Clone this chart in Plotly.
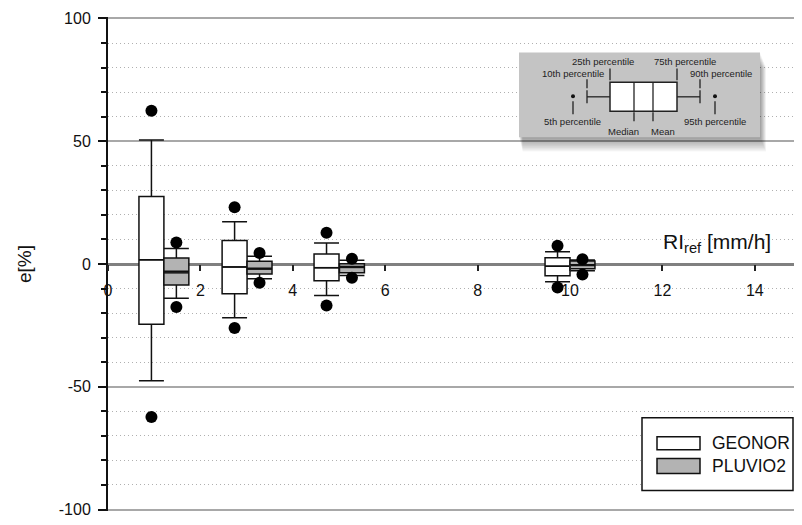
import plotly.graph_objects as go

# ---------------- data ----------------
series_names = ["GEONOR", "PLUVIO2"]
geo_x = [0.94, 2.74, 4.73, 9.73]
plu_x = [1.48, 3.28, 5.28, 10.27]

geo_p5 = [-62.3, -26.1, -16.9, -9.6]
geo_p10 = [-47.5, -21.9, -12.8, -7.2]
geo_q1 = [-24.5, -12.1, -6.8, -4.8]
geo_med = [1.7, -1.2, -1.5, -0.9]
geo_mean = [1.7, -1.2, -1.5, -0.9]
geo_q3 = [27.5, 9.6, 4.1, 2.5]
geo_p90 = [50.5, 17.2, 8.6, 5.0]
geo_p95 = [62.4, 23.1, 12.7, 7.4]

plu_p5 = [-17.5, -7.6, -5.6, -4.3]
plu_p10 = [-13.9, -6.0, -4.7, -2.8]
plu_q1 = [-8.6, -4.1, -3.6, -1.9]
plu_med = [-3.0, -1.7, -1.0, -0.3]
plu_mean = [-3.6, -2.1, -1.4, -0.6]
plu_q3 = [2.4, 1.1, 0.1, 1.2]
plu_p90 = [6.3, 3.2, 1.5, 1.6]
plu_p95 = [8.8, 4.5, 2.1, 1.9]

x_ticks = [0, 2, 4, 6, 8, 10, 12, 14]
y_ticks = [-100, -50, 0, 50, 100]
y_tick_text = ["-100", "-50", "0", "50", "100"]

box_w = 0.54
fills = ["#ffffff", "#b3b3b3"]

# --------------- layout helpers (page has an 8px body margin) ---------------
# figure must fit inside the 802x525 window minus 8px body margins
W, H = 786, 509
OFF = 8                       # body margin
Y_TOP_PX, Y_BOT_PX = 18, 510  # page pixel of y=100 and y=-100
Y_PAD = 0.6                   # range padding so end gridlines are kept
upx = (Y_BOT_PX - Y_TOP_PX) / 200.0
PX0, PX1 = 108, 794           # plot area left / right in page pixels
PY0 = Y_TOP_PX - Y_PAD * upx
PY1 = Y_BOT_PX + Y_PAD * upx
L, R = PX0 - OFF, W - (PX1 - OFF)
T, B = PY0 - OFF, H - (PY1 - OFF)
PW, PH = PX1 - PX0, PY1 - PY0
XPX_PER_UNIT = 46.2


def px(x):
    return (x - PX0) / PW


def py(y):
    return (PY1 - y) / PH


fig = go.Figure()

groups = [
    (geo_x, geo_p5, geo_p10, geo_q1, geo_med, geo_mean, geo_q3, geo_p90, geo_p95),
    (plu_x, plu_p5, plu_p10, plu_q1, plu_med, plu_mean, plu_q3, plu_p90, plu_p95),
]

for i, (xs, p5, p10, q1, med, mean, q3, p90, p95) in enumerate(groups):
    fig.add_trace(go.Box(
        name=series_names[i], x=xs, q1=q1, median=med, q3=q3,
        lowerfence=p10, upperfence=p90, width=box_w, whiskerwidth=1,
        boxpoints=False, fillcolor=fills[i],
        line=dict(color="#111111", width=1.5), showlegend=False,
        hoverinfo="skip",
    ))
    # mean lines
    mx, my = [], []
    for xc, m in zip(xs, mean):
        mx += [xc - box_w / 2, xc + box_w / 2, None]
        my += [m, m, None]
    fig.add_trace(go.Scatter(x=mx, y=my, mode="lines",
                             line=dict(color="#111111", width=1.5),
                             showlegend=False, hoverinfo="skip"))
    # 5th / 95th percentile dots
    fig.add_trace(go.Scatter(x=xs + xs, y=p5 + p95, mode="markers",
                             marker=dict(color="#000000", size=12),
                             showlegend=False, hoverinfo="skip"))

shapes = []
annos = []

# ---------------- inset (box plot key) ----------------
for k in range(1, 13):
    shapes.append(dict(type="rect", xref="paper", yref="paper",
                       x0=px(519 + k * 0.3), x1=px(760 + k * 0.5),
                       y0=py(52 + k * 1.2), y1=py(137 + k * 1.2),
                       fillcolor="rgba(0,0,0,0.035)", line=dict(width=0),
                       layer="above"))
shapes.append(dict(type="rect", xref="paper", yref="paper",
                   x0=px(519), x1=px(760), y0=py(52), y1=py(137),
                   fillcolor="#c4c4c4", line=dict(width=0), layer="above"))


def seg(x0, y0, x1, y1, w=1.3, c="#222222"):
    shapes.append(dict(type="line", xref="paper", yref="paper",
                       x0=px(x0), y0=py(y0), x1=px(x1), y1=py(y1),
                       line=dict(color=c, width=w), layer="above"))


shapes.append(dict(type="rect", xref="paper", yref="paper",
                   x0=px(610), x1=px(677), y0=py(82), y1=py(111),
                   fillcolor="#ffffff", line=dict(color="#222222", width=1.5),
                   layer="above"))
seg(634, 82, 634, 111)
seg(653, 82, 653, 111)
seg(587, 96.5, 610, 96.5)
seg(677, 96.5, 700, 96.5)
seg(587, 90, 587, 103)
seg(700, 90, 700, 103)
for cx in (573, 715):
    shapes.append(dict(type="circle", xref="paper", yref="paper",
                       x0=px(cx - 2), x1=px(cx + 2), y0=py(94), y1=py(98),
                       fillcolor="#111111", line=dict(width=0), layer="above"))
seg(573, 101, 573, 114)
seg(715, 101, 715, 114)
seg(587, 79, 587, 88)
seg(700, 79, 700, 88)
seg(610, 68, 610, 80)
seg(677, 68, 677, 80)
seg(634, 112, 634, 121)
seg(653, 112, 653, 121)

key_labels = [
    ("25th percentile", 603, 61), ("75th percentile", 685, 61),
    ("10th percentile", 573, 73.5), ("90th percentile", 721, 73.5),
    ("5th percentile", 572, 121), ("95th percentile", 715, 121),
    ("Median", 623, 131), ("Mean", 663, 131),
]
for txt, cx, cy in key_labels:
    annos.append(dict(text=txt, xref="paper", yref="paper", x=px(cx), y=py(cy),
                      xanchor="center", yanchor="middle", showarrow=False,
                      font=dict(family="Liberation Sans, Arial", size=9.5,
                                color="#222222")))

# ---------------- manual legend ----------------
shapes.append(dict(type="rect", xref="paper", yref="paper",
                   x0=px(642), x1=px(793), y0=py(418), y1=py(491),
                   fillcolor="#ffffff", line=dict(color="#111111", width=1.5)))
leg_rows = [(437, 450, 443.5), (459, 474, 466.5)]
for i, (y0, y1, yc) in enumerate(leg_rows):
    shapes.append(dict(type="rect", xref="paper", yref="paper",
                       x0=px(657), x1=px(700), y0=py(y0), y1=py(y1),
                       fillcolor=fills[i], line=dict(color="#111111", width=1.5)))
    annos.append(dict(text=series_names[i], xref="paper", yref="paper",
                      x=px(710), y=py(yc), xanchor="left", yanchor="middle",
                      showarrow=False,
                      font=dict(family="Liberation Sans, Arial", size=17.5,
                                color="#111111")))

# x-axis title inside plot
annos.append(dict(text="RI<sub>ref</sub> [mm/h]", xref="paper", yref="paper",
                  x=px(661), y=py(243), xanchor="left", yanchor="middle",
                  showarrow=False,
                  font=dict(family="Liberation Sans, Arial", size=21,
                            color="#111111")))

fig.update_layout(
    width=W, height=H,
    margin=dict(l=L, r=R, t=T, b=B, autoexpand=False),
    paper_bgcolor="#ffffff", plot_bgcolor="#ffffff",
    boxmode="overlay",
    shapes=shapes, annotations=annos,
    font=dict(family="Liberation Sans, Arial", size=16, color="#111111"),
    xaxis=dict(range=[0, PW / XPX_PER_UNIT], tickvals=x_ticks, ticks="outside",
               ticklen=6, tickwidth=1.5, tickcolor="#222222", showgrid=False,
               zeroline=False, showline=False, anchor="free", position=0.5,
               ticklabelstandoff=6, tickfont=dict(size=16)),
    yaxis=dict(range=[-100 - Y_PAD, 100 + Y_PAD], tickvals=y_ticks,
               ticktext=y_tick_text, ticklabeloverflow="allow",
               ticks="outside", ticklen=8,
               tickwidth=1.5, tickcolor="#111111", showline=True,
               linecolor="#111111", linewidth=2,
               showgrid=True, gridcolor="#a8a8a8", gridwidth=2,
               zeroline=True, zerolinecolor="#808080", zerolinewidth=2.5,
               minor=dict(dtick=10, showgrid=True, gridcolor="#b0b0b0",
                          griddash="1px,3px", gridwidth=1, ticks="outside",
                          ticklen=5, tickcolor="#111111", tickwidth=1.5),
               title=dict(text="e[%]", standoff=22,
                          font=dict(size=19)),
               ticklabelstandoff=4, tickfont=dict(size=16)),
)

fig.write_html("out.html")
